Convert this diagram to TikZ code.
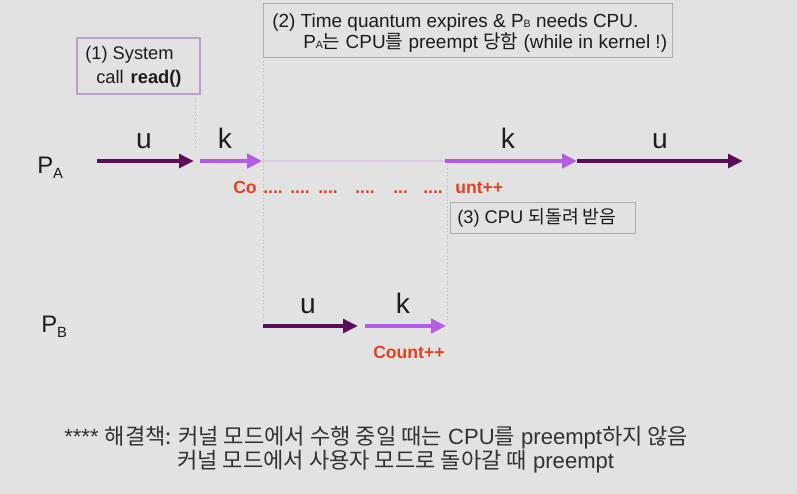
\documentclass[tikz,border=0pt]{standalone}
\usepackage{fontspec}
\setmainfont{Liberation Sans}
\newfontfamily\korfont{Noto Sans CJK KR}
\newcommand{\kor}[1]{{\korfont #1}}
\newcommand{\subsm}[1]{{\fontsize{7.5}{8}\selectfont #1}}
\usetikzlibrary{arrows.meta}
\definecolor{bgray}{RGB}{226,226,226}
\definecolor{umode}{RGB}{92,14,88}
\definecolor{kmode}{RGB}{182,92,226}
\definecolor{idle}{RGB}{216,202,224}
\definecolor{cnt}{RGB}{226,66,30}
\definecolor{boxline}{RGB}{176,172,180}
\definecolor{callbox}{RGB}{186,160,200}
\definecolor{txt}{RGB}{28,28,28}
\begin{document}
\begin{tikzpicture}[x=0.025cm, y=-0.025cm,
    every node/.style={inner sep=0pt, text=txt},
    uarr/.style={draw=umode, line width=3.4pt, -{Triangle[length=10.5pt,width=9.5pt]}},
    karr/.style={draw=kmode, line width=2.9pt, -{Triangle[length=10.5pt,width=10pt]}},
    modelbl/.style={font=\fontsize{20}{20}\selectfont, anchor=base},
    proc/.style={font=\fontsize{17}{17}\selectfont, anchor=base west},
    note/.style={font=\fontsize{13}{15}\selectfont, anchor=base west},
    cntlbl/.style={font=\fontsize{12.5}{14}\selectfont\bfseries, text=cnt, anchor=base west},
    guide/.style={draw=boxline, dotted, line width=0.5pt}]
  \fill[bgray] (0,0) rectangle (797,494);
  \useasboundingbox (0,0) rectangle (797,494);

  % Kotak catatan
  \draw[callbox, line width=0.8pt] (77,38) rectangle (200,94);
  \node[note] (sys1) at (85,59) {(1) System};
  \node[note] (sys2) at (96,83) {call\hspace{5pt}\textbf{read()}};
  \draw[boxline, line width=0.6pt] (263,3) rectangle (672,57);
  \node[note, font=\fontsize{13.5}{15}\selectfont] (qexp1) at (272,27) {(2) Time quantum expires \& P\subsm{B} needs CPU.};
  \node[note, font=\fontsize{13.5}{15}\selectfont] (qexp2) at (303,48) {P\subsm{A}\kor{는} CPU\kor{를} preempt \kor{당함} (while in kernel !)};
  \draw[boxline, line width=0.6pt] (450,202) rectangle (635,233);
  \node[note] (back) at (457,223) {(3) CPU \kor{되돌려 받음}};

  % Garis bantu
  \coordinate (g1t) at (195,94);  \coordinate (g1b) at (195,150);
  \coordinate (g2t) at (263,57);  \coordinate (g2b) at (263,326);
  \coordinate (g3t) at (447,161); \coordinate (g3b) at (447,326);
  \draw[guide] (g1t) -- (g1b);
  \draw[guide] (g2t) -- (g2b);
  \draw[guide] (g3t) -- (g3b);

  % Proses A
  \node[proc] (pa) at (37,173) {P\raisebox{-4.2pt}{\fontsize{10.5}{11}\selectfont A}};
  \coordinate (a0) at (97,161);  \coordinate (a1) at (194,161);
  \coordinate (a2) at (200,161); \coordinate (a3) at (262,161);
  \coordinate (a4) at (445,161); \coordinate (a5) at (577,161);
  \coordinate (a6) at (743,161);
  \draw[idle, line width=1.4pt] (a3) -- (a4);
  \draw[uarr] (a0) -- (a1);
  \draw[karr] (a2) -- (a3);
  \draw[karr] (a4) -- (a5);
  \draw[uarr] (a5) -- (a6);
  \node[modelbl] (ua1) at (144,148) {u};
  \node[modelbl] (ka1) at (225,148) {k};
  \node[modelbl] (ka2) at (508,148) {k};
  \node[modelbl] (ua2) at (660,148) {u};

  % Count++ terpotong
  \node[cntlbl] (co) at (233,193) {Co};
  \node[cntlbl] (dots1) at (263,193) {....};
  \node[cntlbl] (dots2) at (290,193) {....};
  \node[cntlbl] (dots3) at (318,193) {....};
  \node[cntlbl] (dots4) at (355,193) {....};
  \node[cntlbl] (dots5) at (393,193) {...};
  \node[cntlbl] (dots6) at (423,193) {....};
  \node[cntlbl] (unt) at (455,193) {unt++};

  % Proses B
  \node[proc] (pb) at (41,332) {P\raisebox{-4.2pt}{\fontsize{10.5}{11}\selectfont B}};
  \coordinate (b0) at (263,326); \coordinate (b1) at (358,326);
  \coordinate (b2) at (365,326); \coordinate (b3) at (446,326);
  \draw[uarr] (b0) -- (b1);
  \draw[karr] (b2) -- (b3);
  \node[modelbl] (ub) at (308,313) {u};
  \node[modelbl] (kb) at (403,313) {k};
  \node[cntlbl] (count) at (373,358) {Count++};

  % Solusi
  \node[note, font=\fontsize{15.7}{17}\selectfont, text={rgb,255:red,50;green,50;blue,50}] (sol1) at (64,444)
    {**** \kor{해결책: 커널 모드에서 수행 중일 때는} CPU\kor{를} preempt\kor{하지 않음}};
  \node[note, font=\fontsize{15.7}{17}\selectfont, text={rgb,255:red,50;green,50;blue,50}] (sol2) at (177,468)
    {\kor{커널 모드에서 사용자 모드로 돌아갈 때} preempt};
\end{tikzpicture}
\end{document}
